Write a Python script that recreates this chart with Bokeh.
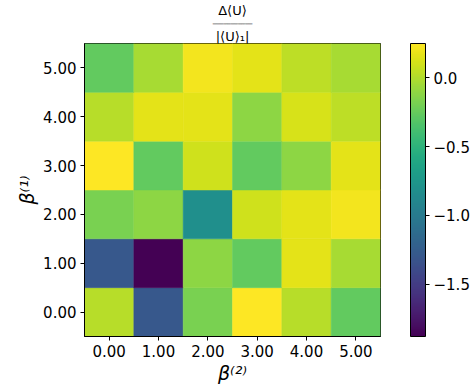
from bokeh.plotting import figure
from bokeh.models import (ColumnDataSource, LinearColorMapper, ColorBar, FixedTicker,
                          PrintfTickFormatter, CustomJSTickFormatter, Range1d, Title)
from bokeh.palettes import Viridis256
from bokeh.embed import file_html
from bokeh.resources import INLINE

# beta^(1) rows (y), beta^(2) columns (x)
beta1 = [0, 1, 2, 3, 4, 5]
beta2 = [0, 1, 2, 3, 4, 5]
row_b1_0 = [0.02, -1.29, -0.18, 0.25, 0.02, -0.26]
row_b1_1 = [-1.29, -1.88, -0.11, -0.26, 0.16, -0.03]
row_b1_2 = [-0.18, -0.11, -0.82, 0.10, 0.16, 0.21]
row_b1_3 = [0.25, -0.26, 0.10, -0.26, -0.11, 0.16]
row_b1_4 = [0.02, 0.16, 0.16, -0.11, 0.12, 0.04]
row_b1_5 = [-0.26, -0.03, 0.21, 0.16, 0.04, -0.03]
rows = [row_b1_0, row_b1_1, row_b1_2, row_b1_3, row_b1_4, row_b1_5]
cbar_ticks = [-1.5, -1.0, -0.5, 0.0]

xs, ys, vals = [], [], []
for i, b1 in enumerate(beta1):
    for j, b2 in enumerate(beta2):
        xs.append(b2)
        ys.append(b1)
        vals.append(rows[i][j])
src = ColumnDataSource(dict(x=xs, y=ys, v=vals))

mapper = LinearColorMapper(palette=Viridis256, low=min(vals), high=max(vals))

FONT = "DejaVu Sans"
p = figure(width=476, height=391, output_backend="svg", toolbar_location=None,
           x_range=Range1d(-0.5, 5.5), y_range=Range1d(-0.5, 5.5),
           min_border_left=84, min_border_right=96, min_border_top=40, min_border_bottom=55)
p.rect(x="x", y="y", width=1, height=1, source=src,
       fill_color={"field": "v", "transform": mapper},
       line_color={"field": "v", "transform": mapper}, line_width=0.5)

p.grid.visible = False
p.outline_line_color = "black"
p.outline_line_width = 1
p.background_fill_color = "white"
p.border_fill_color = "white"

for ax in (p.xaxis[0], p.yaxis[0]):
    ax.ticker = FixedTicker(ticks=beta2)
    ax.formatter = PrintfTickFormatter(format="%.2f")
    ax.major_tick_in = 0
    ax.major_tick_out = 4
    ax.minor_tick_out = 0
    ax.minor_tick_in = 0
    ax.major_tick_line_color = "black"
    ax.axis_line_color = "black"
    ax.major_label_text_font = FONT
    ax.major_label_text_font_size = "15px"
    ax.major_label_text_color = "black"
    ax.axis_label_text_font = FONT
    ax.axis_label_text_font_size = "19px"
    ax.axis_label_text_font_style = "italic"
    ax.axis_label_text_color = "black"
    ax.major_label_standoff = 4
    ax.axis_label_standoff = 2

p.xaxis.axis_label = "β⁽²⁾"
p.yaxis.axis_label = "β⁽¹⁾"

# spacer between frame and colour bar
p.add_layout(Title(text=" ", text_font_size="20px", standoff=6, text_color="white"), "right")

cb = ColorBar(color_mapper=mapper, ticker=FixedTicker(ticks=cbar_ticks),
              formatter=CustomJSTickFormatter(code="return tick.toFixed(1).replace('-', '\\u2212');"),
              width=15, padding=0, margin=0,
              major_tick_in=0, major_tick_out=4, major_tick_line_color="black",
              minor_tick_line_color=None,
              bar_line_color="black", bar_line_width=1,
              major_label_text_font=FONT, major_label_text_font_size="15px",
              major_label_text_color="black", label_standoff=4,
              background_fill_color=None, border_line_color=None)
p.add_layout(cb, "right")

# title as a fraction (denominator closest to the frame)
p.add_layout(Title(text="|⟨U⟩₁|", text_font=FONT, text_font_size="13px", align="center",
                   standoff=0, text_color="black", text_font_style="normal"), "above")
p.add_layout(Title(text="───────────", text_font=FONT, text_font_size="6px", align="center",
                   standoff=0, text_color="black", text_font_style="normal"), "above")
p.add_layout(Title(text="Δ⟨U⟩", text_font=FONT, text_font_size="13px", align="center",
                   standoff=0, text_color="black", text_font_style="normal"), "above")

open("out.html", "w", encoding="utf-8").write(file_html(p, INLINE))
